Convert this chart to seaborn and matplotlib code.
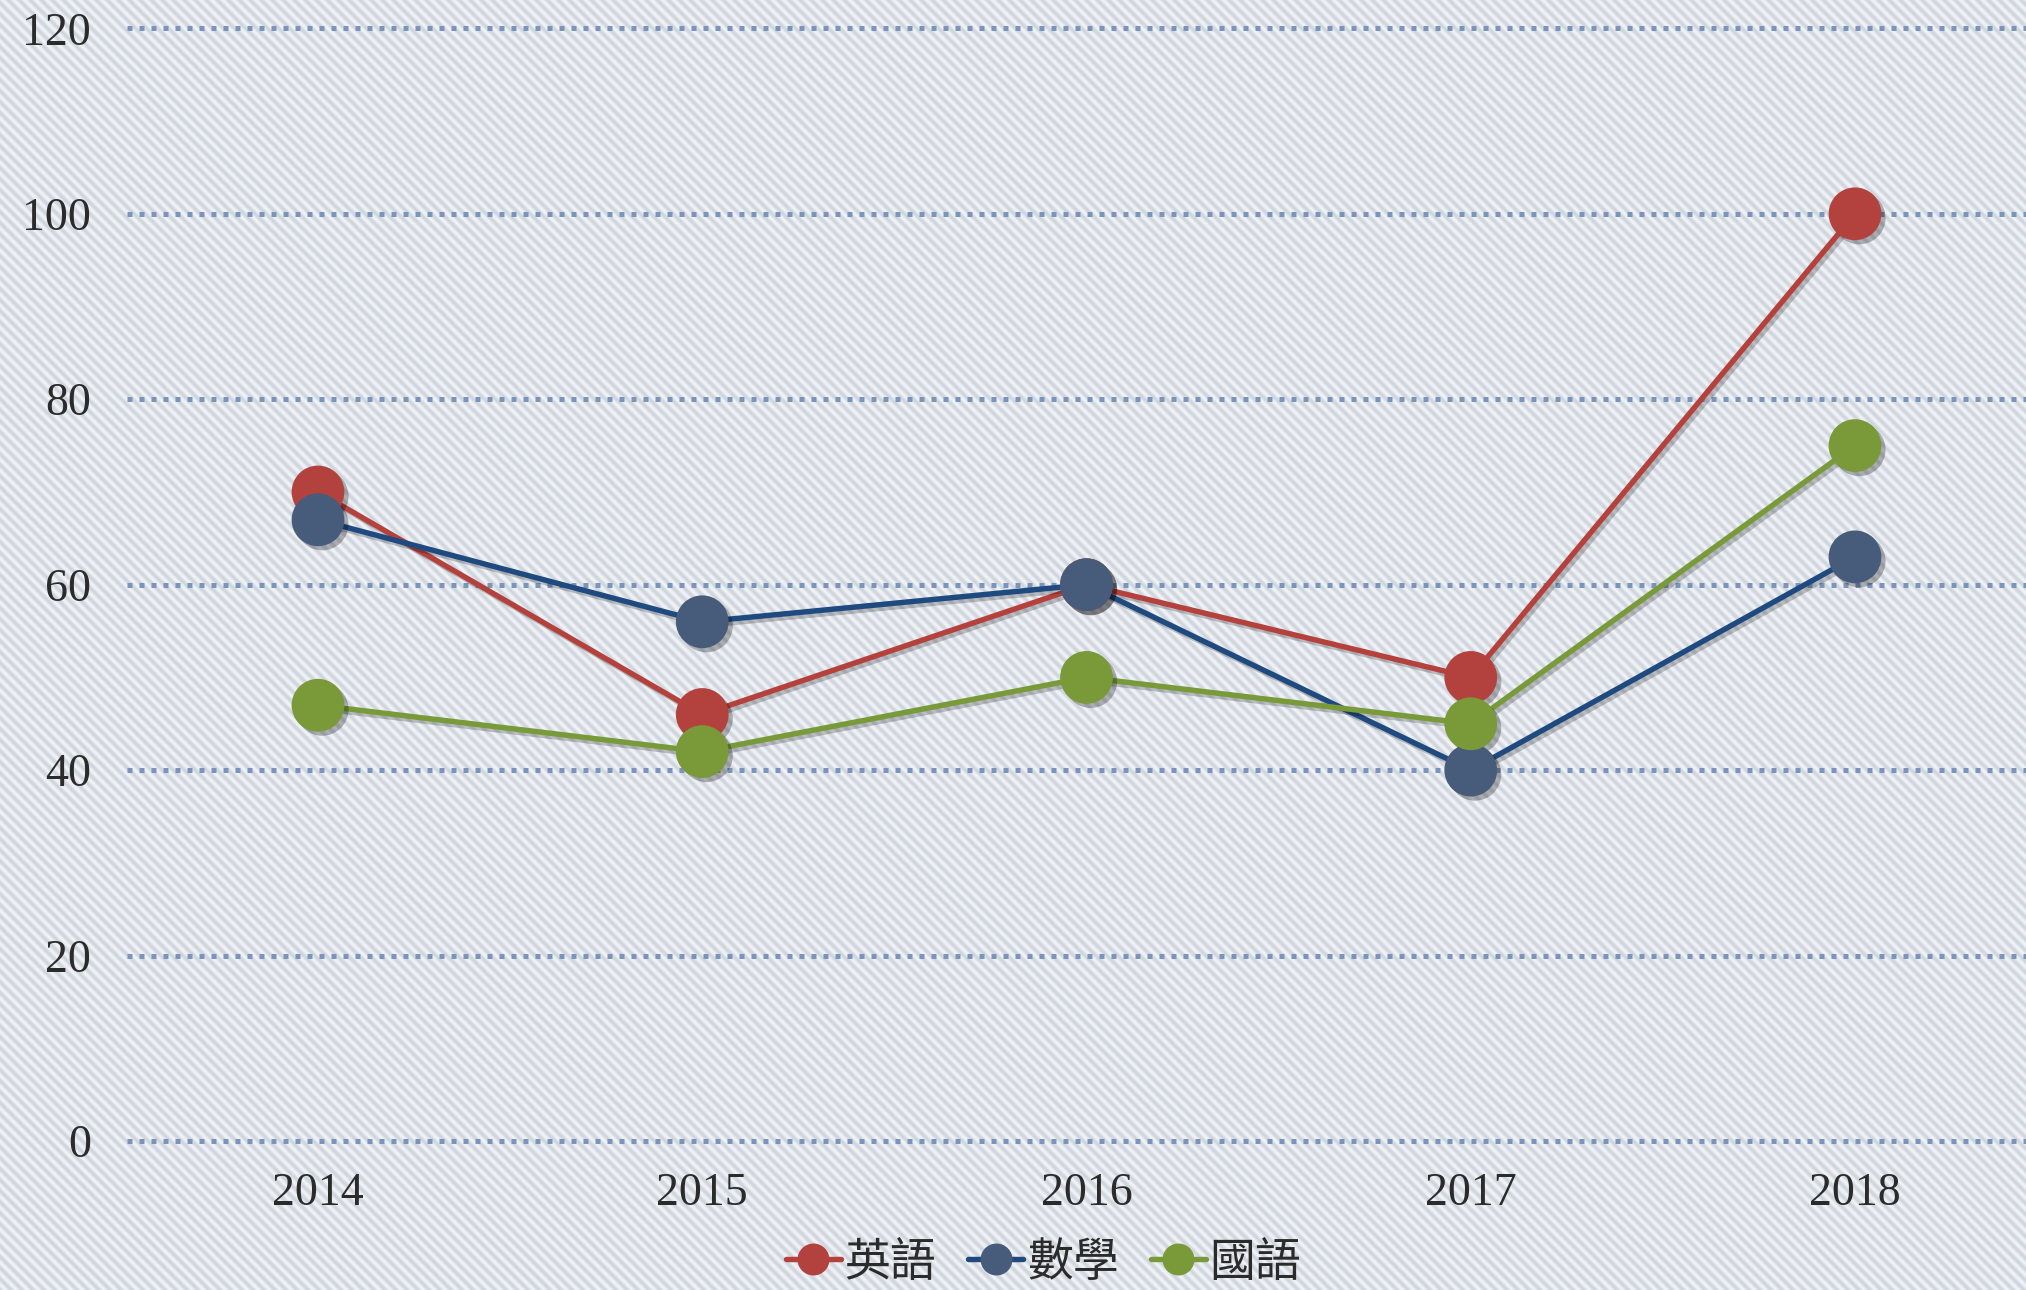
import numpy as np
import pandas as pd
import matplotlib
matplotlib.use("Agg")
import matplotlib.pyplot as plt
import matplotlib.patheffects as pe
from matplotlib.lines import Line2D
import seaborn as sns

# --- data -------------------------------------------------------------
years = ["2014", "2015", "2016", "2017", "2018"]
subjects = ["英語", "數學", "國語"]
english = [70, 46, 60, 50, 100]
math = [67, 56, 60, 40, 63]
chinese = [47, 42, 50, 45, 75]
y_ticks = [0, 20, 40, 60, 80, 100, 120]

line_colors = {"英語": "#b5413d", "數學": "#1f4a80", "國語": "#789a38"}
marker_colors = {"英語": "#b3423e", "數學": "#475b7b", "國語": "#7a9939"}

df = pd.DataFrame({
    "pos": list(range(len(years))) * len(subjects),
    "subject": np.repeat(subjects, len(years)),
    "score": english + math + chinese,
})

# --- style ------------------------------------------------------------
sns.set_style("white")
plt.rcParams["font.family"] = ["Liberation Serif", "DejaVu Serif"]

W, H, DPI = 2026, 1290, 100
fig = plt.figure(figsize=(W / DPI, H / DPI), dpi=DPI)

# twill-like diagonal background
yy, xx = np.mgrid[0:H, 0:W]
stripe = 0.5 + 0.5 * np.sin(2 * np.pi * (xx - yy) / 11.0)
light = np.array([241, 243, 247]) / 255
dark = np.array([207, 213, 221]) / 255
tex = dark + (light - dark) * stripe[..., None]
fig.figimage(tex, xo=0, yo=0, origin="upper", zorder=-5)

ax = fig.add_axes([0.0627, 0.1083, 0.9373, 0.8769])
ax.set_facecolor("none")

# lines
sns.lineplot(data=df, x="pos", y="score", hue="subject", palette=line_colors,
             linewidth=3.9, errorbar=None, sort=False, legend=False, ax=ax, zorder=3)
for ln in ax.lines:
    ln.set_path_effects([pe.SimpleLineShadow(offset=(2.5, -2.5), shadow_color="k", alpha=0.22),
                         pe.Normal()])

# markers
sns.scatterplot(data=df, x="pos", y="score", hue="subject", palette=marker_colors,
                s=38 ** 2, linewidth=0, legend=False, ax=ax, zorder=4)
ax.collections[-1].set_path_effects([pe.SimplePatchShadow(offset=(3, -3), shadow_rgbFace="k", alpha=0.28),
                                     pe.Normal()])

# axes
ax.set_xlim(-0.497, 4.445)
ax.set_ylim(-1, 121)
ax.set_xticks(range(len(years)))
ax.set_xticklabels(years)
ax.set_yticks(y_ticks)
ax.set_yticklabels([str(v) for v in y_ticks])
ax.set_xlabel("")
ax.set_ylabel("")
for s in ax.spines.values():
    s.set_visible(False)
ax.tick_params(axis="both", length=0, labelsize=33, labelcolor="#2b2b2b")
ax.tick_params(axis="y", pad=26)
ax.tick_params(axis="x", pad=16)

ax.yaxis.grid(True, color="#7a95bb", linewidth=3.6, linestyle=(0, (1, 1.4)),
              dash_capstyle="butt")
ax.xaxis.grid(False)
ax.set_axisbelow(True)

# legend
handles = [Line2D([0], [0], color=line_colors[s], lw=3.9, marker="o", markersize=23,
                  markerfacecolor=marker_colors[s], markeredgewidth=0)
           for s in subjects]
leg = fig.legend(handles, subjects, loc="center", bbox_to_anchor=(0.515, 0.0215), ncol=3,
                 frameon=False, handlelength=1.2, handletextpad=0.08, columnspacing=0.7,
                 prop={"family": ["Noto Sans CJK TC", "DejaVu Sans"], "size": 33})
for t in leg.get_texts():
    t.set_color("#2b2b2b")

fig.savefig("out.png", dpi=DPI)
